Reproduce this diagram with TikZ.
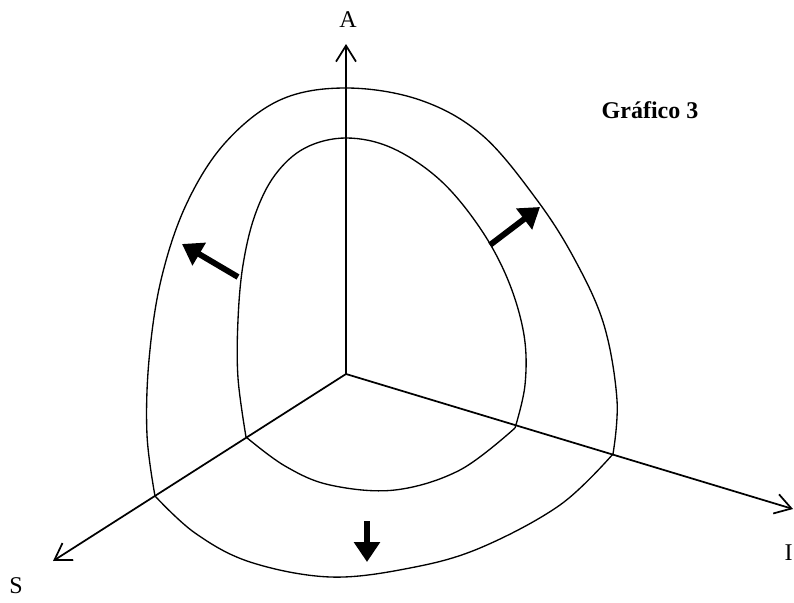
\documentclass[tikz,border=0pt]{standalone}
\usepackage{fontspec}
\setmainfont{Liberation Serif}
\usepackage{tikz}
\usetikzlibrary{arrows.meta, calc}

\begin{document}
\begin{tikzpicture}[
    x=0.75pt, y=-0.75pt,
    axis/.style={line width=1.3pt, -{Straight Barb[length=12pt, width=15pt, line width=1.3pt]}},
    curve/.style={line width=1pt},
    bigarrow/.style={line width=4.4pt, -{Triangle[length=15pt, width=19pt]}},
    label/.style={font=\fontsize{18}{21}\selectfont, inner sep=0pt}
]
    \useasboundingbox (0,0) rectangle (794,603);

    % ================= AXES =================
    \coordinate (O) at (346,374);
    \coordinate (Atip) at (346,44);
    \coordinate (Stip) at (53,561);
    \coordinate (Itip) at (793,509);

    \draw[axis] (O) -- (Atip);
    \draw[axis] (O) -- (Stip);
    \draw[axis] (O) -- (Itip);

    \node[label] (A) at (348,20) {A};
    \node[label] (S) at (16,586) {S};
    \node[label, anchor=east] (I) at (793,553) {I};
    \node[label, font=\fontsize{18}{21}\selectfont\bfseries] (title) at (650,110) {Gráfico 3};

    % ================= OUTER CURVE =================
    \draw[curve] plot[smooth, tension=0.6] coordinates {
        (613,454) (617,400) (604,325) (575,260) (537,200) (482,135)
        (420,100) (346,88) (280,100) (225,143) (186,205) (161,280)
        (149,360) (147,435) (155,496)};
    \draw[curve] plot[smooth, tension=0.6] coordinates {
        (155,496) (195,533) (250,562) (330,577) (410,568) (480,548)
        (560,505) (613,454)};

    % ================= INNER CURVE =================
    \draw[curve] plot[smooth, tension=0.6] coordinates {
        (515,428) (525,385) (524,335) (508,280) (480,228) (440,180)
        (392,148) (346,138) (305,148) (275,175) (255,215) (243,265)
        (238,320) (238,378) (246,437)};
    \draw[curve] plot[smooth, tension=0.6] coordinates {
        (246,437) (285,466) (330,485) (395,490) (460,470) (515,428)};

    % ================= DIRECTION ARROWS =================
    \coordinate (ul0) at (238,277);
    \coordinate (ul1) at (182,244);
    \coordinate (ur0) at (490,245);
    \coordinate (ur1) at (540,207);
    \coordinate (dn0) at (367,521);
    \coordinate (dn1) at (367,562);

    \draw[bigarrow] (ul0) -- (ul1);
    \draw[bigarrow] (ur0) -- (ur1);
    \draw[bigarrow] (dn0) -- (dn1);

\end{tikzpicture}
\end{document}
